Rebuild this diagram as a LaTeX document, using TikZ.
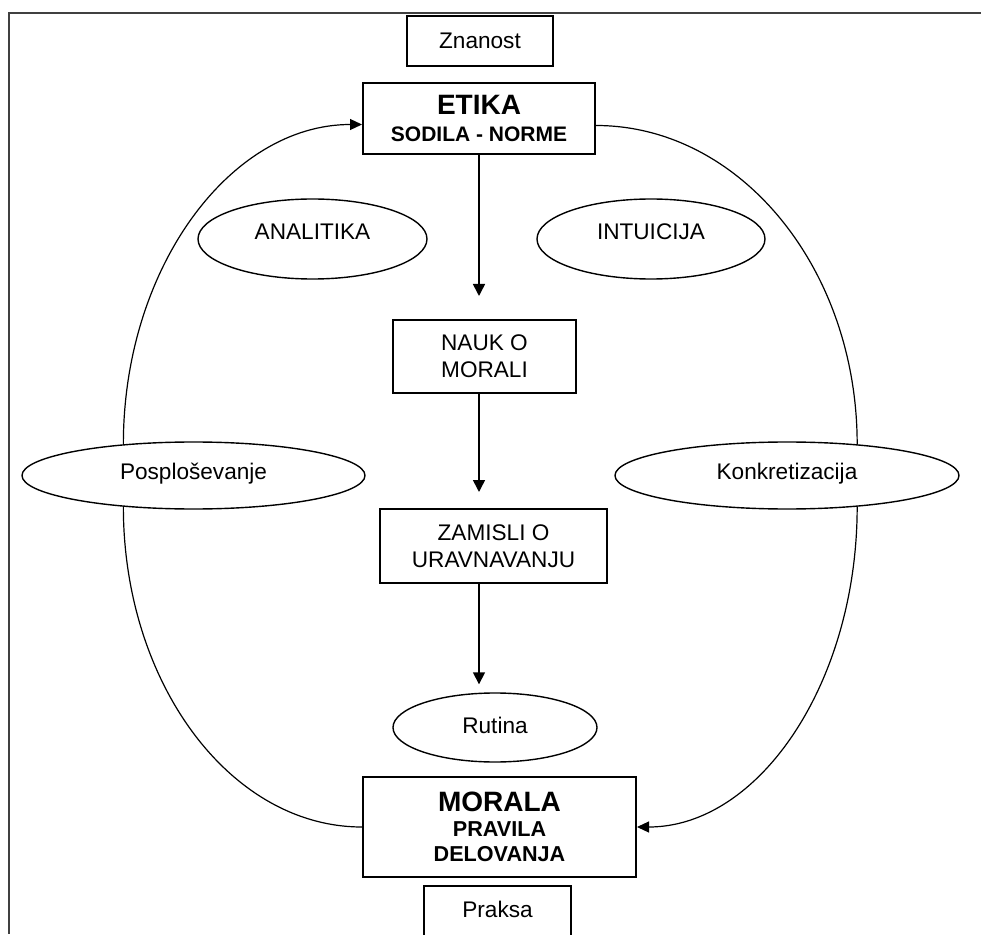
\documentclass[tikz,border=0pt]{standalone}
\usepackage{fontspec}
\setmainfont{Liberation Sans}
\usetikzlibrary{shapes.geometric,arrows.meta}

\tikzset{
	box/.style={draw, line width=1pt, inner sep=0pt, align=center, font=\fontsize{11.3}{13.5}\selectfont},
	bigbox/.style={box, font=\fontsize{10.5}{13.8}\selectfont\bfseries},
	oval/.style={ellipse, draw, line width=0.7pt, inner sep=0pt, text height=8pt, text depth=0pt, font=\fontsize{11.3}{13.5}\selectfont},
	flow/.style={line width=0.8pt, -{Triangle[length=6pt,width=6pt]}},
	ring/.style={line width=0.6pt},
}

\begin{document}
\begin{tikzpicture}[x=0.5pt, y=0.5pt]
		\clip (0,0) rectangle (981,934);
		\draw[line width=1pt, black!75] (981,920.5) -- (9,920.5) -- (9,0);
		
		\node[box, minimum width=73pt, minimum height=25pt] (znanost) at (480,893) {Znanost};
		\node[bigbox, minimum width=116pt, minimum height=35.5pt] (etika) at (479,815.5) {{\fontsize{14}{14}\selectfont ETIKA}\\SODILA - NORME};
		\node[box, minimum width=91.5pt, minimum height=36.5pt] (nauk) at (484.5,577.5) {NAUK O\\MORALI};
		\node[box, minimum width=113.5pt, minimum height=37pt] (zamisli) at (493.5,388) {ZAMISLI O\\URAVNAVANJU};
		\node[oval, minimum width=102pt, minimum height=34.5pt, text depth=2.5pt] (rutina) at (495,206.5) {Rutina};
		\node[bigbox, font=\fontsize{10.8}{12.5}\selectfont\bfseries, minimum width=136.5pt, minimum height=50pt] (morala) at (499.5,107) {{\fontsize{14}{14}\selectfont MORALA}\\PRAVILA\\DELOVANJA};
		\node[box, anchor=base, minimum width=73.5pt, text height=15.5pt, text depth=20pt] (praksa) at (497.5,17) {Praksa};
		
		\node[oval, minimum width=114.5pt, minimum height=40pt, text depth=7.5pt] (analitika) at (312.5,695) {ANALITIKA};
		\node[oval, minimum width=114pt, minimum height=40pt, text depth=7.5pt] (intuicija) at (651,695) {INTUICIJA};
		\node[oval, minimum width=171.5pt, minimum height=33.5pt, text depth=4.5pt] (posp) at (193.5,458.5) {Posploševanje};
		\node[oval, minimum width=172pt, minimum height=33.5pt, text depth=4.5pt] (konkr) at (787,458.5) {Konkretizacija};
		
		\draw[flow, shorten >=11.5pt] (etika.south) -- (etika.south |- nauk.north);
		\draw[flow, shorten >=8pt] (etika.south |- nauk.south) -- (etika.south |- zamisli.north);
		\draw[flow, shorten >=4pt] (etika.south |- zamisli.south) -- (etika.south |- rutina.north);
		
		\draw[ring, -{Triangle[length=6pt,width=5.5pt]}] (posp.156) to[out=90, in=180, out distance=88pt, in distance=66pt] ([yshift=-3pt]etika.west);
		\draw[ring] ([yshift=-3.5pt]etika.east) to[out=0, in=90, out distance=72pt, in distance=88pt] (konkr.24);
		\draw[ring] (posp.204) to[out=-90, in=180, out distance=88pt, in distance=66pt] (morala.west);
		\draw[ring, -{Triangle[length=6pt,width=5.5pt]}] (konkr.336) to[out=-90, in=0, out distance=88pt, in distance=61pt] (morala.east);
	\end{tikzpicture}
\end{document}
